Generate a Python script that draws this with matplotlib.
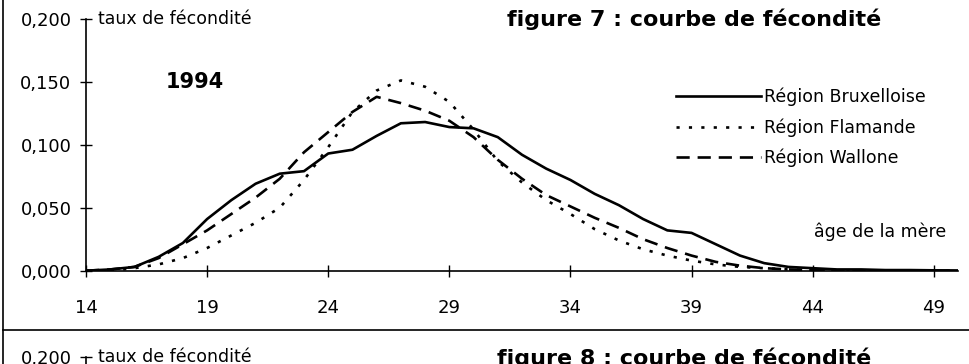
import numpy as np
import matplotlib.pyplot as plt
from matplotlib.lines import Line2D

# ---------------------------
# Data
# ---------------------------
ages = list(range(14, 51))

bruxelles = [0.000, 0.001, 0.003, 0.011, 0.022, 0.041, 0.056, 0.069, 0.077, 0.079,
             0.093, 0.096, 0.107, 0.117, 0.118, 0.114, 0.113, 0.106, 0.092, 0.081,
             0.072, 0.061, 0.052, 0.041, 0.032, 0.030, 0.021, 0.012, 0.006, 0.003,
             0.002, 0.001, 0.001, 0.0005, 0.0005, 0.0003, 0.0002]

flamande = [0.000, 0.000, 0.002, 0.005, 0.010, 0.018, 0.028, 0.038, 0.050, 0.072,
            0.098, 0.126, 0.143, 0.151, 0.146, 0.134, 0.112, 0.087, 0.070, 0.056,
            0.045, 0.033, 0.024, 0.017, 0.012, 0.008, 0.005, 0.003, 0.002, 0.001,
            0.0005, 0.0003, 0.0002, 0.0001, 0.0001, 0.0, 0.0]

wallonie = [0.000, 0.001, 0.003, 0.010, 0.021, 0.032, 0.045, 0.058, 0.073, 0.094,
            0.110, 0.126, 0.138, 0.133, 0.127, 0.119, 0.106, 0.088, 0.073, 0.060,
            0.051, 0.042, 0.034, 0.025, 0.018, 0.012, 0.007, 0.004, 0.002, 0.001,
            0.0005, 0.0003, 0.0002, 0.0001, 0.0001, 0.0, 0.0]

labels = ["Région Bruxelloise", "Région Flamande", "Région Wallone"]
xticks = [14, 19, 24, 29, 34, 39, 44, 49]
yticks = [0.0, 0.05, 0.10, 0.15, 0.20]


def fr(v):
    return f"{v:.3f}".replace(".", ",")


W, H = 970, 364
fig = plt.figure(figsize=(W / 100, H / 100), dpi=100)

# main axes (figure 7)
left, right = 86 / W, 958 / W
bottom, top = 1 - 270.7 / H, 1 - 18.7 / H
ax = fig.add_axes([left, bottom, right - left, top - bottom])

ax.plot(ages, bruxelles, color="black", lw=1.9, label=labels[0])
ax.plot(ages, flamande, color="black", lw=1.9, dashes=(1.2, 3.5), label=labels[1])
ax.plot(ages, wallonie, color="black", lw=1.9, dashes=(5, 3), label=labels[2])

ax.set_xlim(14, 50)
ax.set_ylim(0, 0.2)
ax.set_xticks(xticks)
ax.set_yticks(yticks)
ax.set_yticklabels([fr(v) for v in yticks])
for s in ["top", "right"]:
    ax.spines[s].set_visible(False)
for s in ["left", "bottom"]:
    ax.spines[s].set_linewidth(1.2)
ax.tick_params(axis="both", direction="inout", length=9, width=1.0, labelsize=13)
ax.tick_params(axis="x", pad=16)
ax.tick_params(axis="y", pad=6)
ax.patch.set_alpha(0)

ax.text(0.014, 1.0, "taux de fécondité", transform=ax.transAxes, fontsize=12.5,
        ha="left", va="center")
ax.text(18.5, 0.150, "1994", fontsize=15, fontweight="bold", ha="center", va="center")
ax.text(49.5, 0.031, "âge de la mère", fontsize=12.5, ha="right", va="center")
fig.text(507 / W, 1 - 19 / H, "figure 7 : courbe de fécondité", fontsize=16,
         fontweight="bold", ha="left", va="center")

ax.legend(loc="upper left", bbox_to_anchor=(676 / W, 1 - 88 / H),
          bbox_transform=fig.transFigure, frameon=False, fontsize=12.5,
          handlelength=4.9, handletextpad=0.15, labelspacing=0.68,
          borderpad=0, borderaxespad=0)

# frame lines of the page
fig.add_artist(Line2D([3 / W, 3 / W], [0, 1], color="black", lw=1.2))
fig.add_artist(Line2D([3 / W, 1], [1 - 330 / H, 1 - 330 / H], color="black", lw=1.2))

# start of the next chart (figure 8), cut by the page edge
ax2_top = 1 - 357 / H
ax2 = fig.add_axes([left, ax2_top - (top - bottom), right - left, top - bottom])
ax2.set_xlim(14, 50)
ax2.set_ylim(0, 0.2)
ax2.set_yticks([0.2])
ax2.set_yticklabels([fr(0.2)])
ax2.set_xticks([])
for s in ["top", "right", "bottom"]:
    ax2.spines[s].set_visible(False)
ax2.spines["left"].set_linewidth(1.2)
ax2.tick_params(axis="y", direction="inout", length=9, width=1.0, labelsize=13, pad=6)
ax2.patch.set_alpha(0)
ax2.text(0.014, 1.0, "taux de fécondité", transform=ax2.transAxes, fontsize=12.5,
         ha="left", va="center")
fig.text(497 / W, 1 - 358 / H, "figure 8 : courbe de fécondité", fontsize=16,
         fontweight="bold", ha="left", va="center")

fig.savefig("out.png", dpi=100)
